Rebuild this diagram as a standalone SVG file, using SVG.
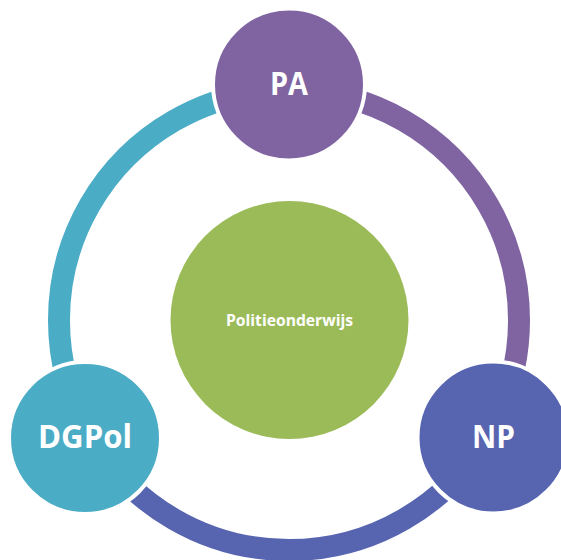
<svg xmlns="http://www.w3.org/2000/svg" width="561" height="560" viewBox="0 0 561 560">
<style>
.arc{fill:none;stroke-width:22}
.node{stroke:#fff;stroke-width:4}
.lbl{font-family:"Open Sans","Liberation Sans",sans-serif;font-weight:bold;fill:#fff;text-anchor:middle}
</style>
<rect width="561" height="560" fill="#fff"/>
<g id="connectors">
<path class="arc" stroke="#8064A2" d="M289,90 A230,230 0 0 1 488.2,435"/>
<path class="arc" stroke="#5765B1" d="M488.2,435 A230,230 0 0 1 89.8,435"/>
<path class="arc" stroke="#4BACC6" d="M89.8,435 A230,230 0 0 1 289,90"/>
</g>
<g id="center">
<circle cx="289.5" cy="320" r="119" fill="#9BBB59"/>
<text class="lbl" x="289.5" y="326" font-size="16" textLength="127" lengthAdjust="spacingAndGlyphs">Politieonderwijs</text>
</g>
<g id="PA">
<circle class="node" cx="289" cy="84.5" r="76" fill="#8064A2"/>
<text class="lbl" x="289" y="95" font-size="32" textLength="38" lengthAdjust="spacingAndGlyphs">PA</text>
</g>
<g id="NP">
<circle class="node" cx="493.5" cy="437.5" r="76" fill="#5765B1"/>
<text class="lbl" x="493.5" y="448" font-size="32" textLength="43" lengthAdjust="spacingAndGlyphs">NP</text>
</g>
<g id="DGPol">
<circle class="node" cx="85" cy="438" r="76" fill="#4BACC6"/>
<text class="lbl" x="85" y="448" font-size="32" textLength="94" lengthAdjust="spacingAndGlyphs">DGPol</text>
</g>
</svg>
